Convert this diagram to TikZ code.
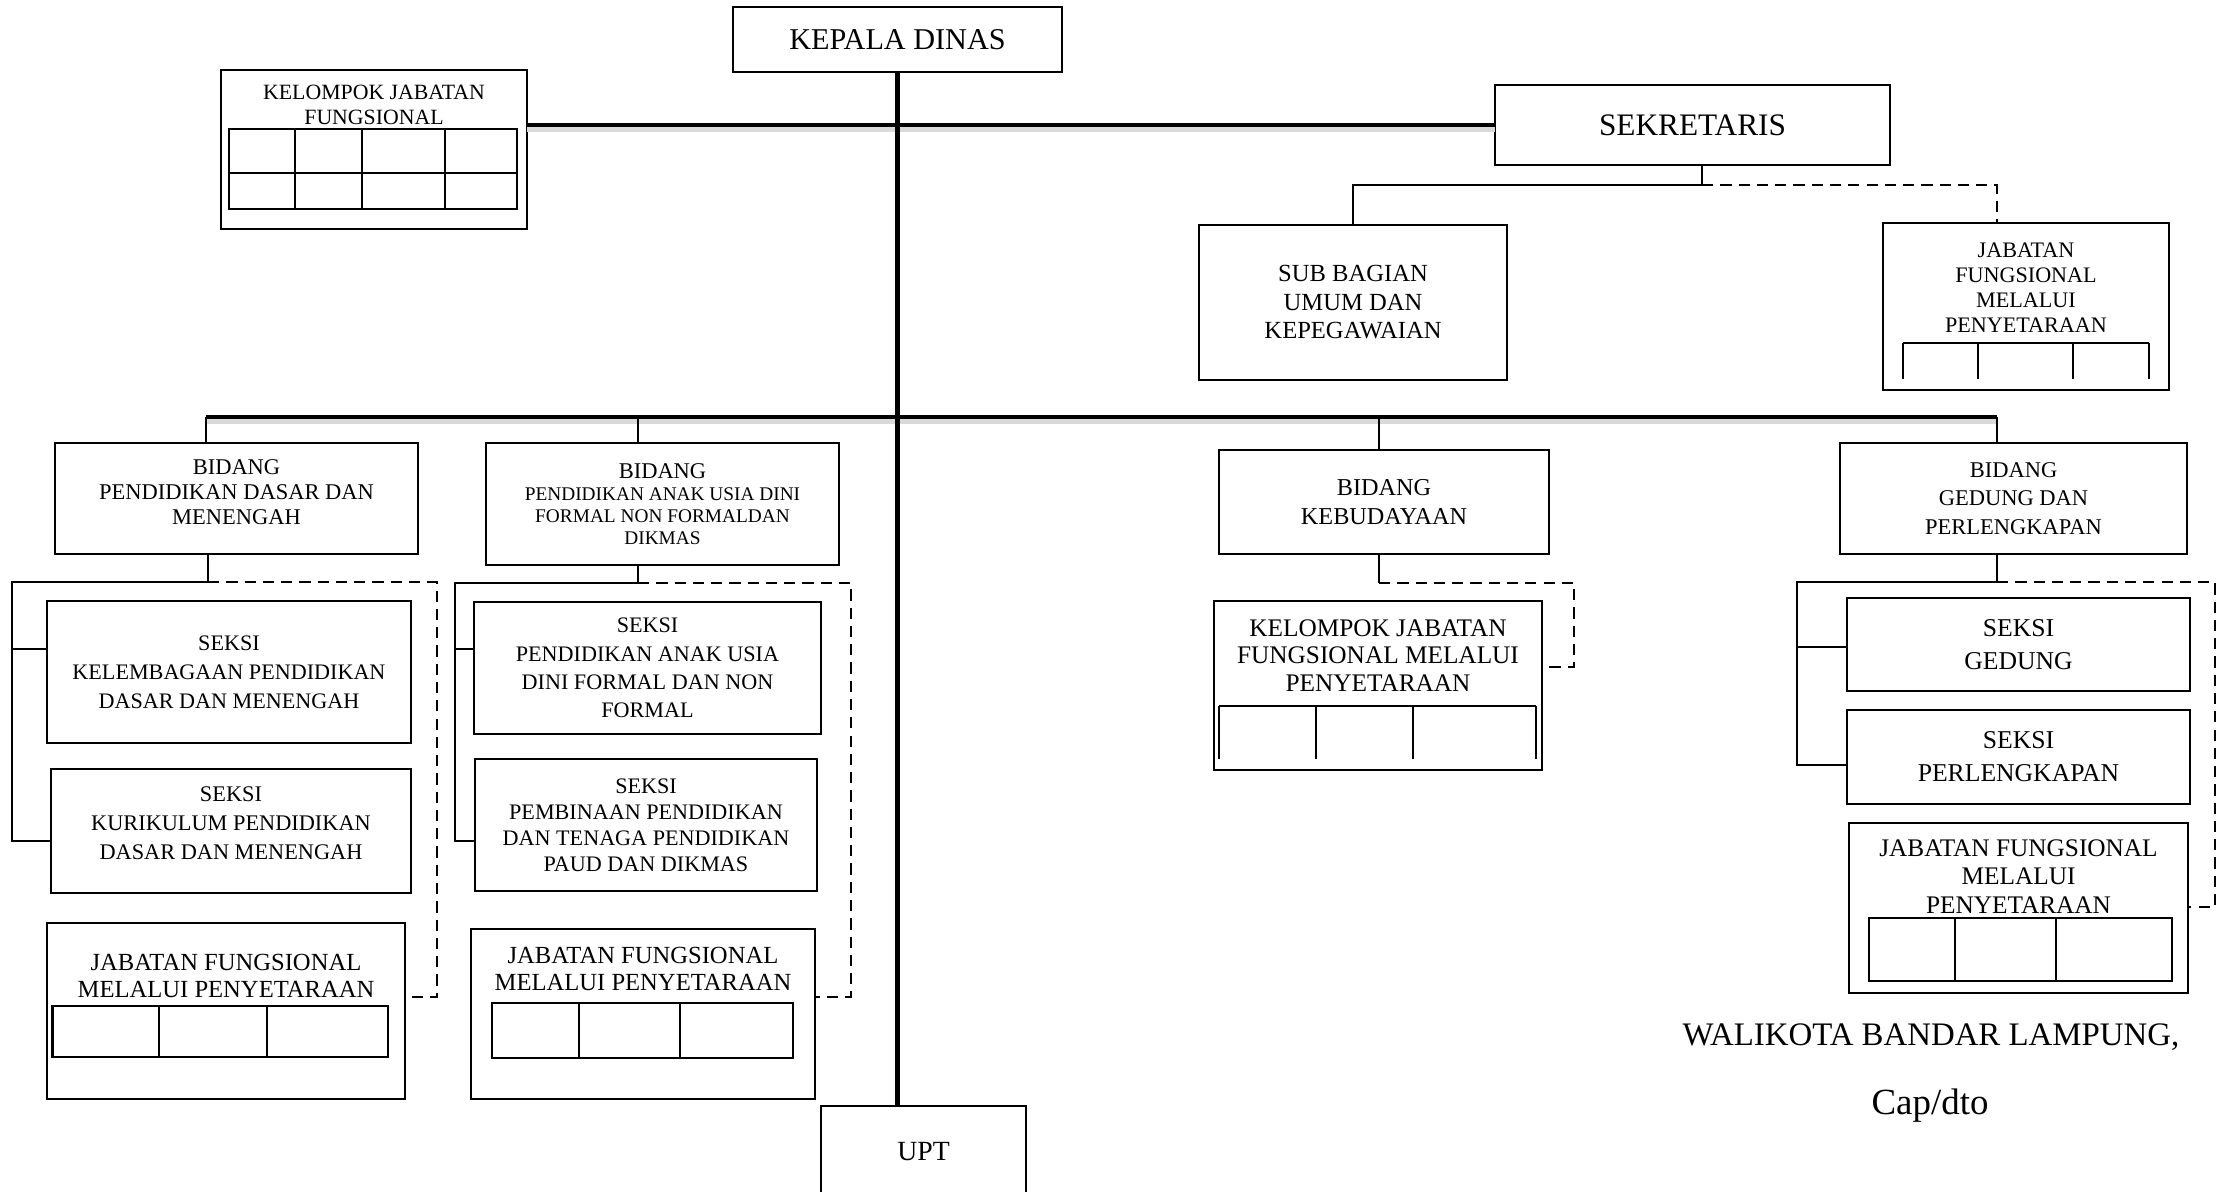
\documentclass[tikz,border=0pt]{standalone}
\usepackage{fontspec}
\setmainfont{Liberation Serif}
\usepackage{tikz}
\newcommand{\fsz}[2]{\fontsize{#1}{#2}\selectfont}
\tikzset{
  box/.style={draw, line width=0.6pt, inner sep=0pt, outer sep=0pt, align=center},
  txt/.style={inner sep=0pt, align=center},
  link/.style={line width=0.5pt},
  dashlink/.style={line width=0.5pt, dash pattern=on 3.2pt off 2pt},
  bus/.style={line width=1.3pt, preaction={draw=black!15, line width=2.2pt, transform canvas={yshift=-0.35mm}}},
  trunk/.style={line width=1.6pt},
  cell/.style={line width=0.75pt},
  cellsep/.style={line width=0.5pt}
}

\begin{document}
\begin{tikzpicture}[x=0.1mm, y=-0.1mm]
\useasboundingbox (0,0) rectangle (2227,1191);
\clip (0,0) rectangle (2227,1191);

% pimpinan
\node[box, minimum width=32.9mm, minimum height=6.5mm, font=\fsz{8.6}{10}] (kadis) at (897.5,39.5) {KEPALA DINAS};
\node[box, minimum width=39.5mm, minimum height=8mm, font=\fsz{8.9}{10}] (sekr) at (1692.5,125) {SEKRETARIS};
\node[box, minimum width=20.5mm, minimum height=9.2mm, font=\fsz{7.9}{9}] (upt) at (923.5,1152) {UPT};

\node[box, minimum width=30.6mm, minimum height=15.9mm] (kjf) at (374,149.5) {};
\node[txt, font=\fsz{6.2}{7.1}] (kjf-t) at (374,104.5) {KELOMPOK JABATAN\\FUNGSIONAL};
\draw[cell] (229,129) rectangle (517,209) (229,173) -- (517,173);
\draw[cellsep] (295,129) -- (295,209) (362,129) -- (362,209) (445,129) -- (445,209);

\node[box, minimum width=30.8mm, minimum height=15.5mm, font=\fsz{7}{8.1}] (subbag) at (1353,302.5) {SUB BAGIAN\\UMUM DAN\\KEPEGAWAIAN};
\node[box, minimum width=28.6mm, minimum height=16.7mm] (jfsek) at (2026,306.5) {};
\node[txt, font=\fsz{6.3}{7.1}] (jfsek-t) at (2026,287.5) {JABATAN\\FUNGSIONAL\\MELALUI\\PENYETARAAN};
\draw[cell] (1903,343) -- (2149,343);
\draw[cellsep] (1903,343) -- (1903,379) (1978,343) -- (1978,379) (2073,343) -- (2073,379) (2149,343) -- (2149,379);

% bidang
\node[box, minimum width=36.3mm, minimum height=11.1mm] (bdikdas) at (236.5,498.5) {};
\node[txt, font=\fsz{6.4}{7.1}] (bdikdas-t) at (236.5,492) {BIDANG\\PENDIDIKAN DASAR DAN\\MENENGAH};
\node[box, minimum width=35.3mm, minimum height=12.2mm, font=\fsz{5.5}{6.3}] (bpaud) at (662.5,504) {{\fsz{6.4}{6.3}BIDANG}\\PENDIDIKAN ANAK USIA DINI\\FORMAL NON FORMALDAN\\DIKMAS};
\node[box, minimum width=33mm, minimum height=10.4mm, font=\fsz{6.9}{8.2}] (bbudaya) at (1384,502) {BIDANG\\KEBUDAYAAN};
\node[box, minimum width=34.7mm, minimum height=11.1mm, font=\fsz{6.4}{8.2}] (bgedung) at (2013.5,498.5) {BIDANG\\GEDUNG DAN\\PERLENGKAPAN};

% seksi dikdas
\node[box, minimum width=36.4mm, minimum height=14.2mm, font=\fsz{6.3}{8.2}] (sklembaga) at (229,672) {SEKSI\\KELEMBAGAAN PENDIDIKAN\\DASAR DAN MENENGAH};
\node[box, minimum width=36mm, minimum height=12.4mm] (skkurikulum) at (231,831) {};
\node[txt, font=\fsz{6.35}{8.2}] (skkurikulum-t) at (231,823) {SEKSI\\KURIKULUM PENDIDIKAN\\DASAR DAN MENENGAH};
\node[box, minimum width=35.8mm, minimum height=17.6mm] (jfdikdas) at (226,1011) {};
\node[txt, font=\fsz{7}{7.7}] (jfdikdas-t) at (226,975.5) {JABATAN FUNGSIONAL\\MELALUI PENYETARAAN};
\draw[cell] (52.6,1006) rectangle (388,1057);
\draw[cellsep] (159,1006) -- (159,1057) (267,1006) -- (267,1057);

% seksi paud
\node[box, minimum width=34.7mm, minimum height=13.2mm, font=\fsz{6.3}{8.1}] (skpaud) at (647.5,668) {SEKSI\\PENDIDIKAN ANAK USIA\\DINI FORMAL DAN NON\\FORMAL};
\node[box, minimum width=34.2mm, minimum height=13.2mm, font=\fsz{6.3}{7.4}] (skpembinaan) at (646,825) {SEKSI\\PEMBINAAN PENDIDIKAN\\DAN TENAGA PENDIDIKAN\\PAUD DAN DIKMAS};
\node[box, minimum width=34.4mm, minimum height=17mm] (jfpaud) at (643,1014) {};
\node[txt, font=\fsz{7}{7.7}] (jfpaud-t) at (643,969) {JABATAN FUNGSIONAL\\MELALUI PENYETARAAN};
\draw[cell] (492,1003) rectangle (793,1058);
\draw[cellsep] (579,1003) -- (579,1058) (680,1003) -- (680,1058);

% kebudayaan
\node[box, minimum width=32.8mm, minimum height=16.9mm] (kjfbudaya) at (1378,685.5) {};
\node[txt, font=\fsz{7.2}{7.8}] (kjfbudaya-t) at (1378,655.5) {KELOMPOK JABATAN\\FUNGSIONAL MELALUI\\PENYETARAAN};
\draw[cell] (1219,706) -- (1536,706);
\draw[cellsep] (1219,706) -- (1219,759) (1316,706) -- (1316,759) (1413,706) -- (1413,759) (1536,706) -- (1536,759);

% gedung
\node[box, minimum width=34.3mm, minimum height=9.3mm, font=\fsz{7.3}{9.4}] (skgedung) at (2018.5,644.5) {SEKSI\\GEDUNG};
\node[box, minimum width=34.3mm, minimum height=9.4mm, font=\fsz{7.3}{9.4}] (skperl) at (2018.5,757) {SEKSI\\PERLENGKAPAN};
\node[box, minimum width=33.9mm, minimum height=17mm] (jfgedung) at (2018.5,908) {};
\node[txt, font=\fsz{7.2}{8.1}] (jfgedung-t) at (2018.5,876.5) {JABATAN FUNGSIONAL\\MELALUI\\PENYETARAAN};
\draw[cell] (1869,918) rectangle (2172,981);
\draw[cellsep] (1955,918) -- (1955,981) (2056,918) -- (2056,981);

\node[txt, font=\fsz{9.35}{11}] (walikota) at (1931,1037) {WALIKOTA BANDAR LAMPUNG,};
\node[txt, font=\fsz{10.5}{12}] (capdto) at (1930,1106) {Cap/dto};

% garis komando
\coordinate (j1) at (206,417);
\coordinate (j2) at (638,417);
\coordinate (j3) at (1379,417);
\coordinate (j4) at (1997,417);
\draw[bus] (kjf.east |- sekr.west) -- (sekr.west);
\draw[bus] (j1) -- (j4);
\draw[trunk] (kadis.south) -- (kadis.south |- upt.north);
\draw[link] (j1) -- (j1 |- bdikdas.north) (j2) -- (j2 |- bpaud.north)
  (j3) -- (j3 |- bbudaya.north) (j4) -- (j4 |- bgedung.north);

\coordinate (s1) at (1702,185);
\coordinate (s2) at (1997,185);
\draw[link] (s1 |- sekr.south) -- (s1) -| (subbag.north);
\draw[dashlink] (s1) -- (s2) -- (s2 |- jfsek.north);

\coordinate (d0) at (12,582);
\coordinate (d1) at (208,582);
\coordinate (d2) at (437,582);
\draw[link] (d1 |- bdikdas.south) -- (d1) -- (d0) -- (d0 |- 0,841) -- (skkurikulum.west |- 0,841);
\draw[link] (d0 |- 0,649) -- (sklembaga.west |- 0,649);
\draw[dashlink] (d1) -- (d2) -- (d2 |- 0,997) -- (jfdikdas.east |- 0,997);

\coordinate (p0) at (455,583);
\coordinate (p1) at (638,583);
\coordinate (p2) at (851,583);
\draw[link] (p1 |- bpaud.south) -- (p1) -- (p0) -- (p0 |- 0,841) -- (skpembinaan.west |- 0,841);
\draw[link] (p0 |- 0,649) -- (skpaud.west |- 0,649);
\draw[dashlink] (p1) -- (p2) -- (p2 |- 0,997) -- (jfpaud.east |- 0,997);

\coordinate (k1) at (1379,583);
\coordinate (k2) at (1574,583);
\draw[link] (k1 |- bbudaya.south) -- (k1);
\draw[dashlink] (k1) -- (k2) -- (k2 |- 0,667) -- (kjfbudaya.east |- 0,667);

\coordinate (g0) at (1797,582);
\coordinate (g1) at (1997,582);
\coordinate (g2) at (2215,582);
\draw[link] (g1 |- bgedung.south) -- (g1) -- (g0) -- (g0 |- 0,765) -- (skperl.west |- 0,765);
\draw[link] (g0 |- 0,647) -- (skgedung.west |- 0,647);
\draw[dashlink] (g1) -- (g2) -- (g2 |- 0,907) -- (jfgedung.east |- 0,907);
\end{tikzpicture}
\end{document}
